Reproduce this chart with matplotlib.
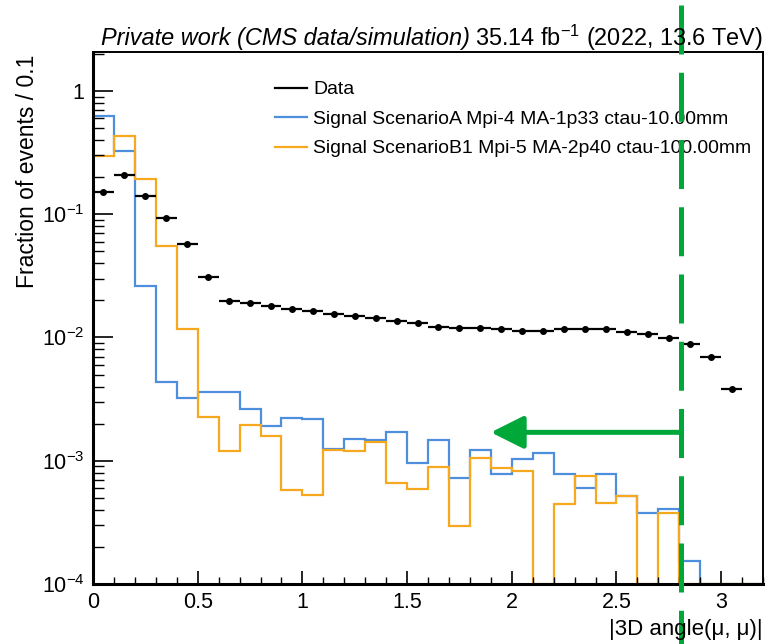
"""
|3D angle(mu, mu)| distribution: data vs two signal scenarios (ROOT style)
"""

import matplotlib
matplotlib.use('Agg')
import matplotlib.pyplot as plt
import matplotlib.transforms as mtransforms
from matplotlib.lines import Line2D
from matplotlib.ticker import MultipleLocator, FixedLocator, FixedFormatter, FuncFormatter, LogLocator
import numpy as np

plt.rcParams['font.family'] = ['Liberation Sans', 'DejaVu Sans']
plt.rcParams['mathtext.fontset'] = 'custom'
plt.rcParams['mathtext.rm'] = 'Liberation Sans'
plt.rcParams['mathtext.it'] = 'Liberation Sans:italic'
plt.rcParams['mathtext.bf'] = 'Liberation Sans:bold'

# 32 bins of width 0.1 between 0 and 3.2
edges = np.linspace(0, 3.2, 33)
centers = 0.5 * (edges[:-1] + edges[1:])

data = [0.152, 0.209, 0.141, 0.093, 0.0578, 0.0312, 0.0198, 0.0189,
        0.0181, 0.0170, 0.0165, 0.0156, 0.0150, 0.0144, 0.0137, 0.0130,
        0.0122, 0.0119, 0.0119, 0.0117, 0.0113, 0.0113, 0.0117, 0.0117,
        0.0117, 0.0111, 0.0106, 0.0099, 0.0088, 0.0069, 0.0038, 0.0]
sig_a = [0.627, 0.324, 0.0262, 0.00434, 0.00324, 0.00360, 0.00360, 0.00264,
         0.00192, 0.00224, 0.00217, 0.00124, 0.00151, 0.00148, 0.00170, 0.000955,
         0.00148, 0.000723, 0.00122, 0.000783, 0.00103, 0.00115, 0.000783, 0.000600,
         0.000783, 0.000522, 0.000376, 0.000409, 0.000154, 0.0, 0.0, 0.0]
sig_b1 = [0.297, 0.434, 0.194, 0.0556, 0.01174, 0.00228, 0.00120, 0.00194,
          0.00159, 0.000584, 0.000526, 0.00122, 0.00120, 0.00143, 0.000658, 0.000589,
          0.000887, 0.000298, 0.00106, 0.000881, 0.000828, 0.0, 0.000445, 0.000755,
          0.000453, 0.000522, 0.0, 0.000376, 0.0, 0.0, 0.0, 0.0]

labels = ['Data',
          'Signal ScenarioA Mpi-4 MA-1p33 ctau-10.00mm',
          'Signal ScenarioB1 Mpi-5 MA-2p40 ctau-100.00mm']

# cut shown by the green marker
cut = 2.81
arrow_end = 1.9
arrow_y = 1.7e-3

ymin, ymax = 1e-4, 2.07
blue = '#4d8fdc'
orange = '#f6a81f'
green = '#00a83a'

fig = plt.figure(figsize=(7.76, 6.44), dpi=100)
ax = fig.add_axes([93 / 776, 60 / 644, 670 / 776, 532 / 644])
ax.set_yscale('log')

# empty bins are drawn along the frame, like ROOT does
ax.stairs(np.maximum(sig_a, ymin), edges, color=blue, lw=1.6, baseline=None)
ax.stairs(np.maximum(sig_b1, ymin), edges, color=orange, lw=1.6, baseline=None)

d = np.array(data)
m = d > 0
ax.errorbar(centers[m], d[m], xerr=0.05, fmt='o', color='black', ms=4,
            elinewidth=1.6, capsize=0)

ax.set_xlim(0, 3.2)
ax.set_ylim(ymin, ymax)

ax.xaxis.set_major_locator(MultipleLocator(0.5))
ax.xaxis.set_minor_locator(MultipleLocator(0.1))
ax.xaxis.set_major_formatter(FuncFormatter(lambda v, p: '%g' % v))
ax.yaxis.set_major_locator(FixedLocator([1e-4, 1e-3, 1e-2, 1e-1, 1]))
ax.yaxis.set_major_formatter(FixedFormatter(['$10^{-4}$', '$10^{-3}$', '$10^{-2}$', '$10^{-1}$', '1']))
ax.yaxis.set_minor_locator(LogLocator(subs=np.arange(2, 10)))
ax.yaxis.set_minor_formatter(FuncFormatter(lambda v, p: ''))

ax.tick_params(which='both', direction='in', top=False, right=False)
ax.tick_params(axis='x', which='major', length=9.4, width=1.2, labelsize=15.5, pad=6)
ax.tick_params(axis='x', which='minor', length=5, width=1.0)
ax.tick_params(axis='y', which='major', length=14.4, width=1.2, labelsize=15.5, pad=6)
ax.tick_params(axis='y', which='minor', length=8, width=1.0)
for side in ['left', 'bottom']:
    ax.spines[side].set_linewidth(2.2)
for side in ['top', 'right']:
    ax.spines[side].set_linewidth(1.4)

handles = [Line2D([], [], color='black', lw=1.6),
           Line2D([], [], color=blue, lw=1.6),
           Line2D([], [], color=orange, lw=1.6)]
ax.legend(handles, labels, loc='upper left', bbox_to_anchor=(0.272, 0.946),
          frameon=False, fontsize=13.95, handlelength=1.65, handletextpad=0.31,
          labelspacing=0.62, borderpad=0, borderaxespad=0)

# header: italic part placed to the left of the lumi part
title_y = 1 - 38 / 644
lumi = fig.text(763 / 776, title_y, '35.14 fb$^{-1}$ (2022, 13.6 TeV)',
                ha='right', va='center', fontsize=16.9)
bb = lumi.get_window_extent(renderer=fig.canvas.get_renderer())
fig.text((bb.x0 - 5) / fig.bbox.width, title_y, 'Private work (CMS data/simulation)',
         ha='right', va='center', fontsize=16.9, style='italic')

fig.text(28 / 776, 1 - 55 / 644, 'Fraction of events / 0.1', rotation=90,
         ha='center', va='top', fontsize=16.5)
fig.text(763 / 776, 1 - 630 / 644, '|3D angle(\u03bc, \u03bc)|',
         ha='right', va='center', fontsize=16)

# green cut marker on top of everything
trans = mtransforms.blended_transform_factory(ax.transData, fig.transFigure)
fig.add_artist(Line2D([cut, cut], [1 - 5 / 644, 0], transform=trans, color=green,
                      lw=3.6, linestyle=(0, (9.8, 3.65))))
ax.annotate('', xy=(arrow_end, arrow_y), xytext=(cut, arrow_y),
            arrowprops=dict(arrowstyle='-|>', mutation_scale=50, color=green,
                            lw=3.6, shrinkA=0, shrinkB=0),
            annotation_clip=False)

fig.savefig('out.png', dpi=100)
